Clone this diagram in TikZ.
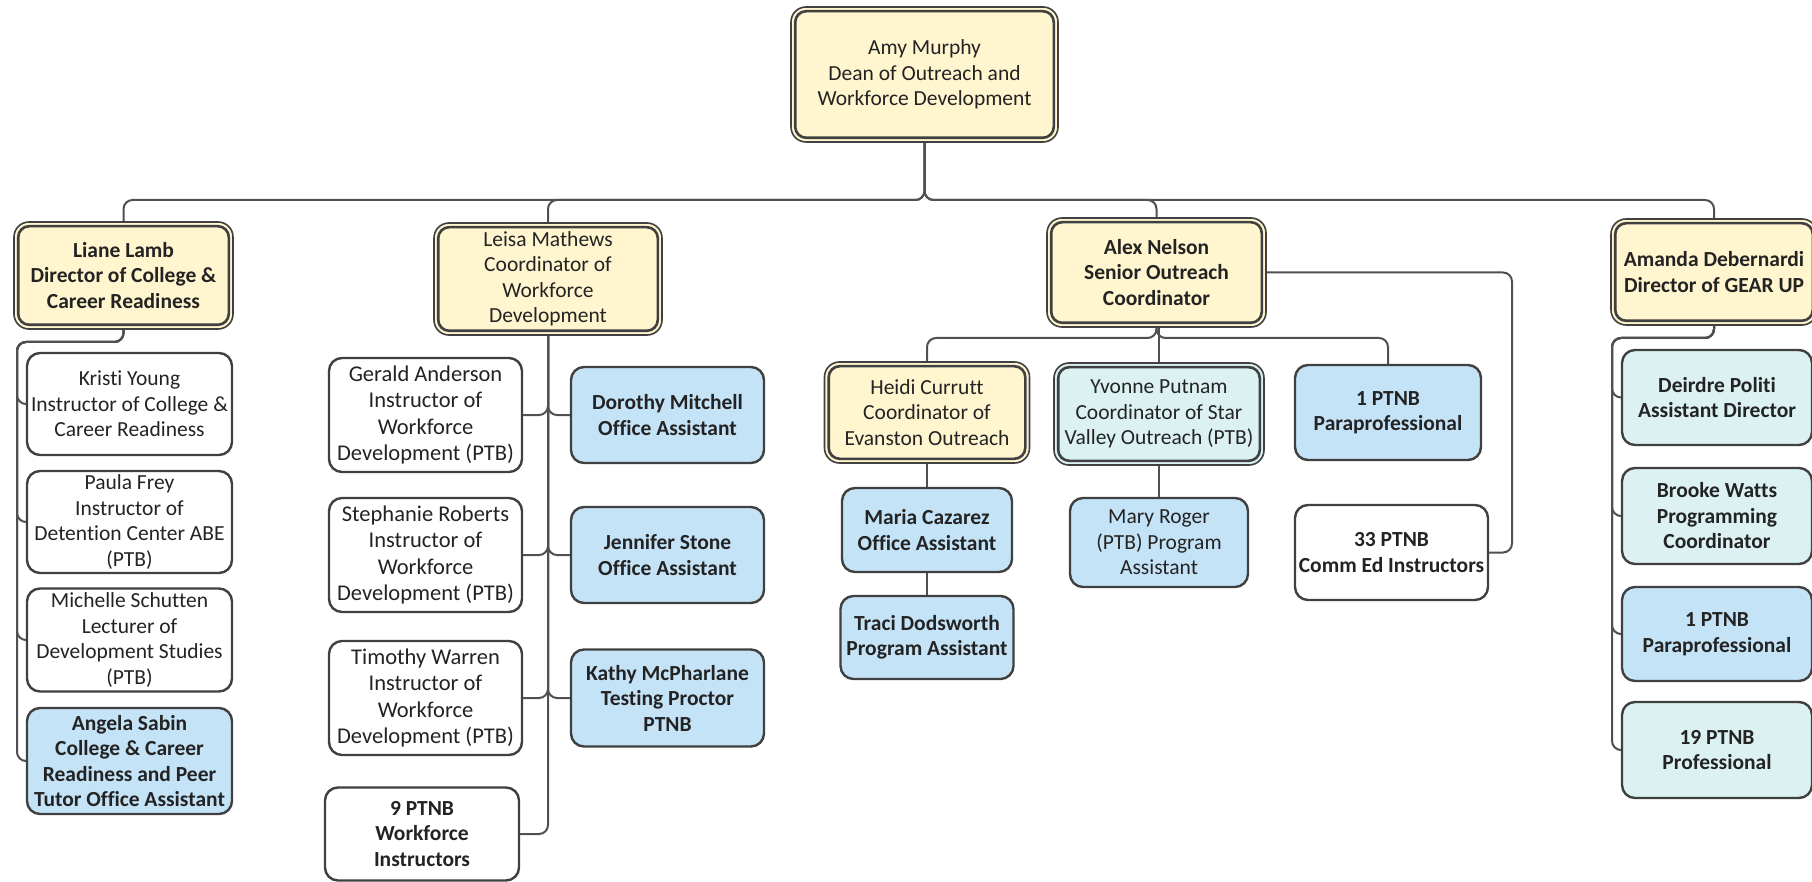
\documentclass[tikz,border=0pt]{standalone}
\usepackage{fontspec}
\setmainfont{Carlito}[Ligatures={NoCommon}]
\definecolor{ylw}{RGB}{255,246,208}
\definecolor{blu}{RGB}{196,227,247}
\definecolor{cyn}{RGB}{219,241,242}
\definecolor{edge}{RGB}{64,64,64}
\definecolor{txt}{RGB}{35,35,35}
\definecolor{wire}{RGB}{80,80,80}
\tikzset{
 box/.style={draw=edge, line width=2.4pt, rounded corners=13pt, align=center, inner sep=0pt, text=txt, font=\fontsize{21.5}{25.5}\selectfont},
 wbox/.style={box, fill=white},
 bbox/.style={box, fill=blu},
 cbox/.style={box, fill=cyn},
 bold/.style={font=\fontsize{21.5}{25.5}\selectfont\bfseries},
 big/.style={font=\fontsize{22.5}{26.5}\selectfont},
 mgr/.style={draw=edge, line width=1.6pt, rounded corners=15pt, align=center, inner sep=0pt, text=txt, font=\fontsize{21.5}{25.5}\selectfont},
 innerline/.style={draw=edge, line width=2.6pt, rounded corners=11pt},
 conn/.style={draw=wire, line width=2pt, rounded corners=9pt},
}
\newcommand\mgrnode[7]{%
 \node[mgr, fill=#6, minimum width=#4pt, minimum height=#5pt] (#1) at (#2,#3) {#7};
 \draw[innerline] ([shift={(5pt,-5pt)}]#1.north west) rectangle ([shift={(-5pt,5pt)}]#1.south east);
}
\begin{document}
\begin{tikzpicture}[x=1pt,y=-1pt]
\path[use as bounding box, fill=white] (0,0) rectangle (1812,882);

% managers
\mgrnode{amy}{924.5}{74.5}{267}{135}{ylw}{Amy Murphy\\Dean of Outreach and\\Workforce Development}
\mgrnode{liane}{123.5}{275.5}{219}{107}{ylw}{\bfseries Liane Lamb\\\bfseries Director of College \&\\\bfseries Career Readiness}
\mgrnode{leisa}{548}{279}{228}{112}{ylw}{Leisa Mathews\\Coordinator of\\Workforce\\Development}
\mgrnode{alex}{1156.5}{272.5}{219}{109}{ylw}{\bfseries Alex Nelson\\\bfseries Senior Outreach\\\bfseries Coordinator}
\mgrnode{amanda}{1714}{272}{206}{106}{ylw}{\bfseries Amanda Debernardi\\\bfseries Director of GEAR UP}
\mgrnode{heidi}{927}{412.5}{205}{101}{ylw}{Heidi Currutt\\Coordinator of\\Evanston Outreach}
\mgrnode{yvonne}{1159}{414}{210}{102}{cyn}{Yvonne Putnam\\Coordinator of Star\\Valley Outreach (PTB)}

% Liane's staff
\node[wbox, minimum width=205pt, minimum height=102pt] (kristi) at (129.5,404) {Kristi Young\\Instructor of College \&\\Career Readiness};
\node[wbox, minimum width=205pt, minimum height=102pt] (paula) at (129.5,522) {Paula Frey\\Instructor of\\Detention Center ABE\\(PTB)};
\node[wbox, minimum width=205pt, minimum height=103pt] (michelle) at (129.5,640) {Michelle Schutten\\Lecturer of\\Development Studies\\(PTB)};
\node[bbox, bold, minimum width=205pt, minimum height=106pt] (angela) at (129.5,761) {Angela Sabin\\College \& Career\\Readiness and Peer\\Tutor Office Assistant};

% Leisa's staff
\node[wbox, big, minimum width=193pt, minimum height=114pt] (gerald) at (425.5,415) {Gerald Anderson\\Instructor of\\Workforce\\Development (PTB)};
\node[wbox, big, minimum width=193pt, minimum height=114pt] (stephanie) at (425.5,555) {Stephanie Roberts\\Instructor of\\Workforce\\Development (PTB)};
\node[wbox, big, minimum width=193pt, minimum height=114pt] (timothy) at (425.5,698) {Timothy Warren\\Instructor of\\Workforce\\Development (PTB)};
\node[wbox, bold, minimum width=194pt, minimum height=93pt] (ninep) at (422,834) {9 PTNB\\Workforce\\Instructors};
\node[bbox, bold, minimum width=193pt, minimum height=96pt] (dorothy) at (667.5,415) {Dorothy Mitchell\\Office Assistant};
\node[bbox, bold, minimum width=193pt, minimum height=96pt] (jennifer) at (667.5,555) {Jennifer Stone\\Office Assistant};
\node[bbox, bold, minimum width=193pt, minimum height=97pt] (kathy) at (667.5,698) {Kathy McPharlane\\Testing Proctor\\PTNB};

% Alex's staff
\node[bbox, bold, minimum width=170pt, minimum height=84pt] (maria) at (927,530) {Maria Cazarez\\Office Assistant};
\node[bbox, bold, minimum width=173pt, minimum height=83pt] (traci) at (927,637.5) {Traci Dodsworth\\Program Assistant};
\node[bbox, minimum width=178pt, minimum height=89pt] (mary) at (1159,542.5) {Mary Roger\\(PTB) Program\\Assistant};
\node[bbox, bold, minimum width=186pt, minimum height=95pt] (ptnbA) at (1388,412.5) {1 PTNB\\Paraprofessional};
\node[wbox, bold, minimum width=193pt, minimum height=95pt] (ptnbB) at (1391.5,552.5) {33 PTNB\\Comm Ed Instructors};

% Amanda's staff
\node[cbox, bold, minimum width=190pt, minimum height=95pt] (deirdre) at (1717,397.5) {Deirdre Politi\\Assistant Director};
\node[cbox, bold, minimum width=190pt, minimum height=96pt] (brooke) at (1717,516) {Brooke Watts\\Programming\\Coordinator};
\node[bbox, bold, minimum width=190pt, minimum height=94pt] (ptnbG) at (1717,634) {1 PTNB\\Paraprofessional};
\node[cbox, bold, minimum width=190pt, minimum height=96pt] (nineteen) at (1717,750) {19 PTNB\\Professional};

% bus coordinates
\coordinate (busA) at (0,200);
\coordinate (busL) at (0,342);
\coordinate (railL) at (17,0);
\coordinate (busX) at (0,338);
\coordinate (railX) at (1512,0);
\coordinate (busG) at (0,338);
\coordinate (railG) at (1612,0);

% top level
\foreach \c in {liane,leisa,alex,amanda}
  \draw[conn] (\c.north) -- (\c.north |- busA) -- (amy.south |- busA) -- (amy.south);

% Liane
\foreach \c in {kristi,paula,michelle,angela}
  \draw[conn] (liane.south) -- (liane.south |- busL) -- (railL |- busL) -- (railL |- \c.west) -- (\c.west);

% Leisa
\foreach \c in {gerald,stephanie,timothy,ninep}
  \draw[conn] (leisa.south) -- (leisa.south |- \c.east) -- (\c.east);
\foreach \c in {dorothy,jennifer,kathy}
  \draw[conn] (leisa.south) -- (leisa.south |- \c.west) -- (\c.west);

% Alex
\foreach \c in {heidi,ptnbA}
  \draw[conn] (\c.north) -- (\c.north |- busX) -- (alex.south |- busX) -- (alex.south);
\draw[conn] (yvonne.north) -- (yvonne.north |- alex.south);
\draw[conn] (alex.east) -- (alex.east -| railX) -- (railX |- ptnbB.east) -- (ptnbB.east);
\draw[conn] (heidi.south) -- (maria.north);
\draw[conn] (maria.south) -- (traci.north);
\draw[conn] (yvonne.south) -- (mary.north);

% Amanda
\foreach \c in {deirdre,brooke,ptnbG,nineteen}
  \draw[conn] (amanda.south) -- (amanda.south |- busG) -- (railG |- busG) -- (railG |- \c.west) -- (\c.west);
\end{tikzpicture}
\end{document}
